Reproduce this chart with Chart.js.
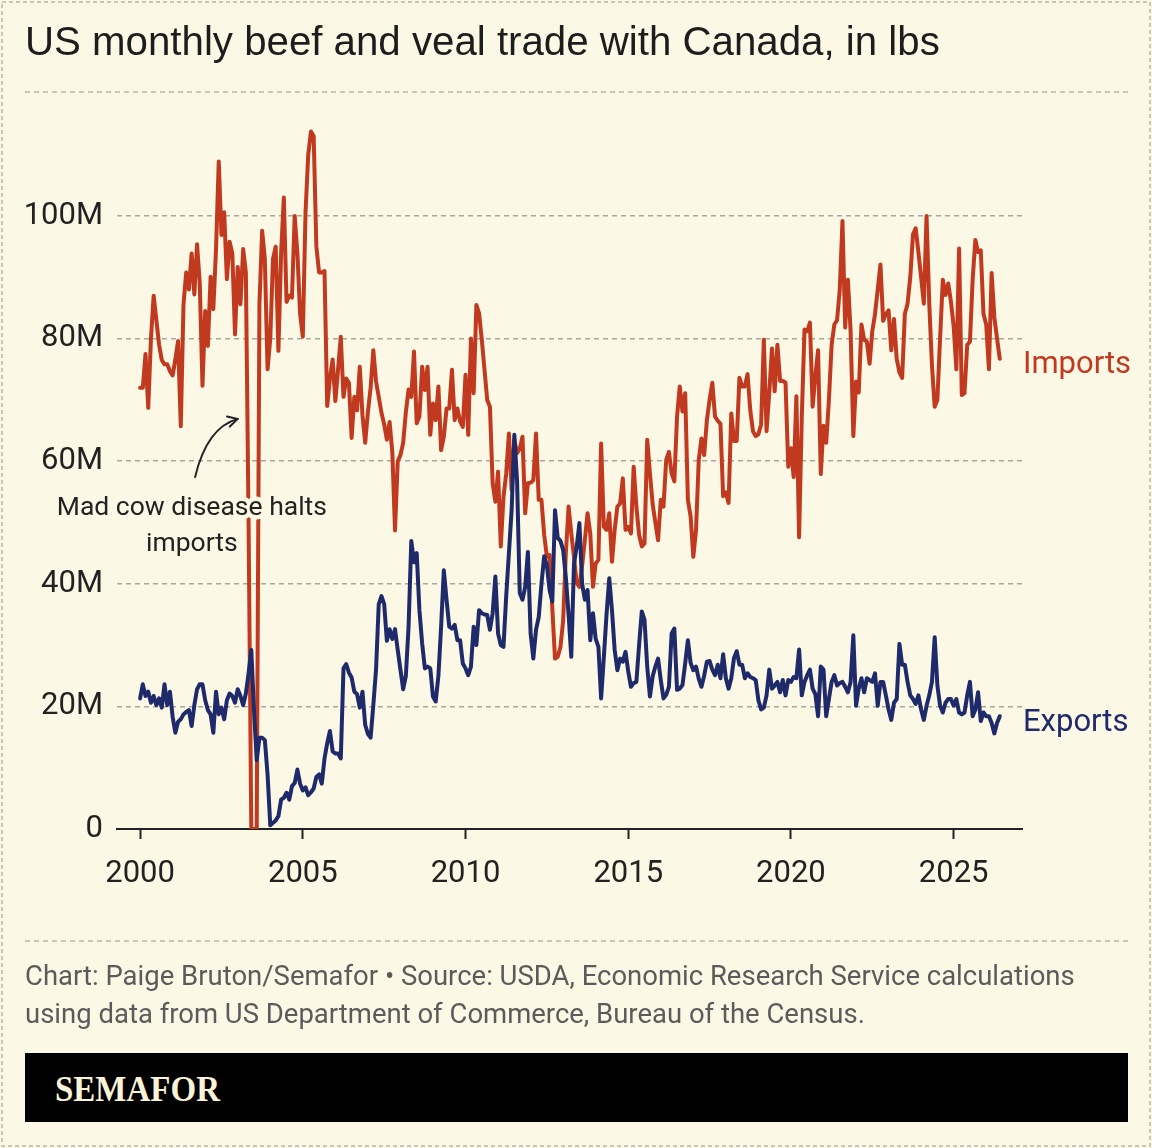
<!DOCTYPE html>
<html>
<head>
<meta charset="utf-8">
<script src="https://cdn.jsdelivr.net/npm/chart.js@4.4.1/dist/chart.umd.min.js"></script>
<style>
  html, body { margin: 0; padding: 0; background: #fcf8e6; }
  #wrap { position: relative; width: 1152px; height: 1148px; overflow: hidden; background: #fcf8e6; }
  #c { position: absolute; left: 0; top: 0; }
  .t { position: absolute; white-space: nowrap; margin: 0; }
  #title { left: 25px; font-family: "Liberation Sans", Arial, sans-serif; font-size: 37px; line-height: 1; color: #1d1d1d; }
  .foot { left: 25px; font-family: Roboto, sans-serif; font-size: 27px; line-height: 1; color: #5b5b5b; }
  #bar { position: absolute; left: 25px; top: 1053px; width: 1103px; height: 69px; background: #000; }
  #logo { left: 55px; font-family: "Liberation Serif", serif; font-weight: bold; font-size: 35px; line-height: 1; color: #fbf3d6; transform-origin: left center; }
</style>
</head>
<body>
<div id="wrap">
  <canvas id="c" width="1152" height="1148" style="width:1152px;height:1148px"></canvas>
  <div class="t" id="title">US monthly beef and veal trade with Canada, in lbs</div>
  <div class="t foot" id="foot1">Chart: Paige Bruton/Semafor • Source: USDA, Economic Research Service calculations</div>
  <div class="t foot" id="foot2">using data from US Department of Commerce, Bureau of the Census.</div>
  <div id="bar"></div>
  <div class="t" id="logo">SEMAFOR</div>
</div>
<script>
// ---------------- DATA (millions of lbs, monthly from Jan 2000) ----------------
const startYear = 2000;
const seriesNames = ['Imports', 'Exports'];
const xTickYears = [2000, 2005, 2010, 2015, 2020, 2025];
const yTickValues = [0, 20, 40, 60, 80, 100];
const noteLines = ['Mad cow disease halts', 'imports'];

const importsM = [
  72, 72, 77.5, 68.7, 80, 87, 83, 79, 76.5, 75.8, 75.8, 74.7,
  74, 76.6, 79.6, 65.7, 85.6, 90.8, 88, 93.9, 87.2, 95.4, 89, 72.3,
  84.5, 78.8, 90.1, 84.8, 94.6, 108.9, 96.9, 100.6, 89.7, 95.8, 93.9, 80.7,
  91.7, 85.6, 94.6, 90.8, 50, 0, 0, 0, 85.6, 97.6, 93, 75,
  80, 93, 95, 78, 94, 103, 86, 87, 86.7, 100, 94, 84,
  80.3, 100.6, 110, 113.8, 113, 95, 90.8, 90.8, 91, 69, 73.5, 76.6,
  69.8, 75, 80.3, 70.5, 73.5, 72.8, 63.8, 70.5, 68.3, 75.4, 67.5, 63,
  68, 72, 78.1, 73, 70.5, 67.9, 66, 63.5, 66.4, 61.5, 48.7, 60,
  61, 63, 68, 71.7, 70.5, 77.9, 66.2, 67.3, 75.4, 71.6, 75.4, 64.3,
  69.4, 66.7, 72.2, 61.8, 64, 68.6, 68.6, 74.9, 66.7, 68.6, 66.5, 65.6,
  74.1, 64.3, 80, 71.1, 85.5, 84.1, 79.8, 74.9, 70, 68.9, 56.4, 53.4,
  58.3, 46.1, 54.2, 58, 64.5, 55.3, 63.5, 61.3, 62, 64, 51.5, 56.4,
  56.5, 56.9, 64.5, 53.7, 53.7, 48, 44.4, 44.7, 36, 27.8, 28.1, 29.7,
  34, 45, 52.6, 48.2, 44.4, 40.1, 39.5, 43, 47.1, 51.5, 48.2, 39.5,
  43.3, 43.9, 62.9, 49.3, 48.8, 51.5, 43.6, 48.8, 52.6, 53.1, 57.2, 48.8,
  49.3, 48.2, 59.1, 52.6, 48, 46.1, 46.6, 63.5, 58, 53, 50, 47.1,
  53.7, 52.6, 60.2, 61.5, 58, 56.7, 67.3, 72.2, 68.1, 71.1, 53.7, 51,
  44.4, 48.8, 60.2, 63.7, 61, 66.7, 70, 72.8, 67.3, 66.6, 66.1, 54.3,
  54.9, 53.2, 67.8, 63.3, 63.3, 73.6, 72.2, 72.2, 74.2, 68.3, 64.9, 64.1,
  64.4, 66, 79.8, 64.9, 71.1, 78.4, 71.4, 79, 73.1, 73.1, 72.8, 59.1,
  62.1, 57.4, 70.6, 47.6, 67.2, 81.5, 81.2, 82.6, 68.9, 73.9, 78.1, 57.9,
  65.8, 63, 70, 79, 82.3, 83, 88, 99.2, 81.8, 89.6, 81.2, 64.1,
  73, 71.2, 82.3, 79.8, 79.5, 75.9, 81.2, 84, 88, 92.1, 82.9, 84,
  84.6, 78.1, 83.2, 76.7, 74.5, 73.6, 84, 85.7, 90, 97, 98, 94.1,
  90, 85.7, 100, 85.7, 75.6, 68.9, 70, 80.1, 89.6, 87.1, 89, 86,
  82, 75, 94.7, 70.8, 71.1, 79, 79.5, 89.6, 96.1, 94.1, 94.4, 84,
  82.3, 75, 90.7, 83.5, 80, 76.7
];

const exportsM = [
  21.3, 23.6, 21.7, 22.4, 20.6, 21.7, 20.2, 21.3, 19.8, 23.6, 20.2, 22.4,
  18.3, 15.7, 17.5, 17.9, 18.7, 19.1, 19.4, 16.8, 20.2, 22.8, 23.6, 23.6,
  21, 19.4, 18.7, 15.7, 22.4, 18.7, 19.8, 17.9, 21, 22.1, 21.7, 20.6,
  22.8, 21.7, 20.2, 22.1, 25.4, 29.2, 19.4, 11.2, 14.9, 14.9, 14.5, 8.9,
  0.6, 1, 1.4, 2.1, 4.8, 5.1, 5.9, 4.8, 7, 7.5, 9.7, 7.4,
  6.3, 6.8, 5.5, 6, 6.6, 8.5, 8.9, 7.4, 11.5, 14, 16, 12.7,
  12.3, 12.3, 11.5, 26.2, 26.9, 25.5, 24.7, 22.4, 22, 19.8, 22.4, 17,
  15.5, 14.9, 20.2, 26, 36.7, 38, 36.7, 30.7, 32.6, 31, 32.6, 29.2,
  26, 22.8, 25, 33, 47, 43.5, 45, 35.7, 30.3, 26.2, 26.5, 26.2,
  21.6, 20.8, 25, 33, 42.2, 37.4, 33, 32.7, 33.3, 30.8, 30.8, 27,
  26.2, 25.1, 26.5, 33, 30, 35.7, 35.2, 35, 34.9, 32.5, 35.2, 41.2,
  31.9, 30, 29.7, 38, 45, 52, 64.3, 56.9, 38.5, 37.4, 39.5, 45.2,
  31.9, 27.8, 32.5, 34.6, 40, 44.5, 43, 39, 37.1, 52, 47.5, 47,
  45.5, 41, 35, 28.1, 43.3, 46.1, 49.9, 40, 37.4, 39, 30.8, 35.2,
  31, 29.7, 21.3, 28, 35, 40.9, 35.7, 29.2, 25.9, 27.8, 27.3, 28.9,
  25.7, 23.2, 23.8, 24, 30, 35.5, 34.1, 26.5, 21.6, 24.9, 26.5, 27.8,
  24.3, 21.3, 21.9, 23.2, 31.9, 32.7, 22.7, 22.9, 23.5, 27, 30.8, 27.1,
  25.9, 26.5, 24.5, 23.2, 25, 27.3, 27.4, 26, 25.1, 26.8, 24.6, 28.5,
  24.6, 22.9, 24.6, 27.9, 29, 26.8, 26.8, 24.6, 25.4, 24.8, 24.6, 24.3,
  21, 19.5, 19.8, 21.8, 26, 22.9, 23.4, 24, 22.3, 24.3, 21.8, 24.3,
  24, 24.8, 24.6, 29.3, 21.8, 24, 25.1, 26, 22.9, 22, 18.4, 26.5,
  26, 18.4, 21.2, 24, 25.1, 23.4, 23.8, 24, 23.2, 22.3, 24, 31.6,
  20.1, 22.9, 24.6, 22.3, 24.6, 24.3, 24, 25.4, 20.1, 24, 24, 21.8,
  19.5, 17.8, 20.6, 21.2, 30.2, 26.8, 26.8, 24, 21.8, 21.2, 20.4, 21.8,
  19.5, 17.8, 20.1, 21.8, 24, 31.3, 23.4, 20.1, 19, 20.6, 21.2, 21.2,
  20.1, 21.2, 19, 18.7, 19, 21.8, 24, 18.4, 19.5, 22.3, 17.6, 19,
  18.4, 18.4, 17.3, 15.6, 17.3, 18.4
];

// ---------------- STYLE / LAYOUT ----------------
const BG = '#fcf8e6';
const RED = '#c13a20';
const NAVY = '#1f2a6b';
const INK = '#222222';
const AXIS_FONT = 'Roboto';
const AXIS_SIZE = 31;

// annotation anchors (in data units)
const noteAnchor = { x: 2001.59, y: 51.2 };
const arrowFrom = { x: 2001.69, y: 57.4 };
const arrowCtrl = { x: 2002.05, y: 65.5 };
const arrowTo = { x: 2003.0, y: 66.9 };
const importsLabelY = 74.4;
const exportsLabelY = 16.0;

const toPoints = arr => arr.map((v, i) => ({ x: startYear + i / 12, y: v }));

function dashedLine(ctx, x1, y1, x2, y2, color, w, dash) {
  ctx.save();
  ctx.strokeStyle = color; ctx.lineWidth = w; ctx.setLineDash(dash);
  ctx.beginPath(); ctx.moveTo(x1, y1); ctx.lineTo(x2, y2); ctx.stroke();
  ctx.restore();
}

const framePlugin = {
  id: 'frame',
  beforeDraw(chart) {
    const ctx = chart.ctx;
    ctx.save();
    ctx.fillStyle = BG;
    ctx.fillRect(0, 0, chart.width, chart.height);
    ctx.strokeStyle = '#c9c7bd'; ctx.lineWidth = 2; ctx.setLineDash([4, 3]);
    ctx.strokeRect(2, 2, chart.width - 4, chart.height - 4);
    ctx.restore();
    dashedLine(ctx, 25, 92, 1128, 92, '#b9b7ad', 1.5, [5, 4]);
    dashedLine(ctx, 25, 941, 1128, 941, '#b9b7ad', 1.5, [5, 4]);
  }
};

const notesPlugin = {
  id: 'notes',
  afterDatasetsDraw(chart) {
    const { ctx, scales: { x, y }, chartArea } = chart;
    ctx.save();
    ctx.font = '26.5px Roboto';
    ctx.textAlign = 'center';
    ctx.textBaseline = 'alphabetic';
    ctx.lineJoin = 'round';
    const nx = x.getPixelForValue(noteAnchor.x);
    const ny = y.getPixelForValue(noteAnchor.y);
    noteLines.forEach((t, k) => {
      const yy = ny + k * 36;
      ctx.strokeStyle = BG; ctx.lineWidth = 9; ctx.strokeText(t, nx, yy);
      ctx.fillStyle = INK; ctx.fillText(t, nx, yy);
    });
    const p0 = [x.getPixelForValue(arrowFrom.x), y.getPixelForValue(arrowFrom.y)];
    const pc = [x.getPixelForValue(arrowCtrl.x), y.getPixelForValue(arrowCtrl.y)];
    const p1 = [x.getPixelForValue(arrowTo.x), y.getPixelForValue(arrowTo.y)];
    ctx.strokeStyle = INK; ctx.lineWidth = 2; ctx.lineCap = 'round';
    ctx.beginPath(); ctx.moveTo(p0[0], p0[1]); ctx.quadraticCurveTo(pc[0], pc[1], p1[0], p1[1]); ctx.stroke();
    const ang = Math.atan2(p1[1] - pc[1], p1[0] - pc[0]);
    const L = 11;
    ctx.beginPath();
    ctx.moveTo(p1[0] - L * Math.cos(ang - 0.5), p1[1] - L * Math.sin(ang - 0.5));
    ctx.lineTo(p1[0], p1[1]);
    ctx.lineTo(p1[0] - L * Math.cos(ang + 0.5), p1[1] - L * Math.sin(ang + 0.5));
    ctx.stroke();
    ctx.font = AXIS_SIZE + 'px ' + AXIS_FONT;
    ctx.textAlign = 'left';
    ctx.fillStyle = RED;
    ctx.fillText(seriesNames[0], chartArea.right + 1, y.getPixelForValue(importsLabelY));
    ctx.fillStyle = NAVY;
    ctx.fillText(seriesNames[1], chartArea.right + 1, y.getPixelForValue(exportsLabelY));
    ctx.restore();
  }
};

Chart.defaults.font.family = AXIS_FONT;
Chart.defaults.color = INK;

new Chart(document.getElementById('c'), {
  type: 'line',
  data: {
    datasets: [
      { label: seriesNames[0], data: toPoints(importsM), borderColor: RED, borderWidth: 4, order: 1 },
      { label: seriesNames[1], data: toPoints(exportsM), borderColor: NAVY, borderWidth: 4, order: 0 }
    ]
  },
  options: {
    responsive: false,
    animation: false,
    elements: {
      point: { radius: 0, hoverRadius: 0 },
      line: { tension: 0, borderJoinStyle: 'round', borderCapStyle: 'round' }
    },
    layout: { padding: { left: 17, right: 130, top: 93.4, bottom: 249 } },
    plugins: { legend: { display: false }, tooltip: { enabled: false } },
    scales: {
      x: {
        type: 'linear',
        min: 1999.29,
        max: 2027.1,
        afterBuildTicks: s => { s.ticks = xTickYears.map(v => ({ value: v })); },
        afterFit: s => { s.height = 70; },
        ticks: { callback: v => String(v), font: { size: AXIS_SIZE }, color: INK, padding: 17, maxRotation: 0, autoSkip: false },
        grid: { drawOnChartArea: false, drawTicks: true, tickLength: 10, tickWidth: 2, tickColor: INK, color: INK },
        border: { display: true, color: INK, width: 2 }
      },
      y: {
        type: 'linear',
        min: 0,
        max: 120,
        afterBuildTicks: s => { s.ticks = yTickValues.map(v => ({ value: v })); },
        afterFit: s => { s.width = 100; },
        ticks: { callback: v => (v === 0 ? '0' : v + 'M'), font: { size: AXIS_SIZE }, color: INK, padding: 14 },
        grid: { drawTicks: false, color: '#a9a79e', lineWidth: 1.5 },
        border: { display: false, dash: [5, 4] }
      }
    }
  },
  plugins: [framePlugin, notesPlugin]
});

// ---------------- HTML text placement ----------------
function baselineOffset(el) {
  const probe = document.createElement('span');
  probe.style.display = 'inline-block';
  probe.style.width = '0';
  probe.style.height = '0';
  probe.style.verticalAlign = 'baseline';
  el.appendChild(probe);
  const off = probe.getBoundingClientRect().top - el.getBoundingClientRect().top;
  el.removeChild(probe);
  return off;
}
function fitWidth(el, target) {
  const w = el.getBoundingClientRect().width;
  const fs = parseFloat(getComputedStyle(el).fontSize);
  el.style.fontSize = (fs * target / w) + 'px';
}
function placeBaseline(el, base) {
  el.style.top = '0px';
  el.style.top = (base - baselineOffset(el)) + 'px';
}
const title = document.getElementById('title');
const f1 = document.getElementById('foot1');
const f2 = document.getElementById('foot2');
const logo = document.getElementById('logo');
fitWidth(title, 915);
fitWidth(f1, 1050);
f2.style.fontSize = f1.style.fontSize;
placeBaseline(title, 55);
placeBaseline(f1, 985);
placeBaseline(f2, 1023);
placeBaseline(logo, 1101);
const lw = logo.getBoundingClientRect().width;
logo.style.transform = 'scaleX(' + (165 / lw) + ')';
</script>
</body>
</html>
